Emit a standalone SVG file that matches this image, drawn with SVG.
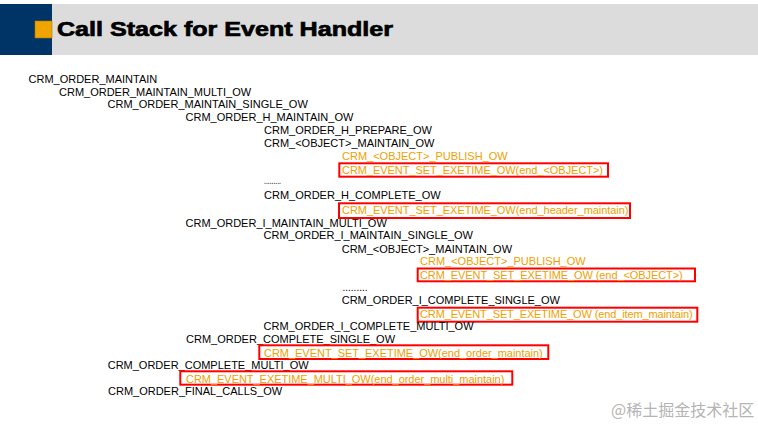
<svg xmlns="http://www.w3.org/2000/svg" width="758" height="424" viewBox="0 0 758 424">
<style>
text{font-family:"Liberation Sans",Arial,sans-serif;font-size:11px;fill:#000}
.o{fill:#F0A000}
.box{fill:none;stroke:#FF0000;stroke-width:2}
.title{font-size:21px;font-weight:bold;stroke:#000;stroke-width:0.7}
.wm{font-family:"Noto Sans CJK SC","Liberation Sans",sans-serif;font-size:16px;fill:#B4B4B4}
</style>
<rect width="758" height="424" fill="#FFFFFF"/>
<g id="header">
<rect x="52" y="4" width="706" height="51" fill="#DCDCDC"/>
<rect x="0" y="4" width="52" height="51" fill="#003366"/>
<rect x="35" y="21" width="17" height="17" fill="#F0A400" stroke="#B07800" stroke-width="0.6"/>
<text class="title" x="57" y="36" textLength="336" lengthAdjust="spacingAndGlyphs">Call Stack for Event Handler</text>
</g>
<g id="connectors"></g>
<g id="n1"><text x="28.5" y="82.5">CRM_ORDER_MAINTAIN</text></g>
<g id="n2"><text x="59" y="95.5">CRM_ORDER_MAINTAIN_MULTI_OW</text></g>
<g id="n3"><text x="107.5" y="108">CRM_ORDER_MAINTAIN_SINGLE_OW</text></g>
<g id="n4"><text x="185.5" y="121">CRM_ORDER_H_MAINTAIN_OW</text></g>
<g id="n5"><text x="264" y="134">CRM_ORDER_H_PREPARE_OW</text></g>
<g id="n6"><text x="264" y="147">CRM_&lt;OBJECT&gt;_MAINTAIN_OW</text></g>
<g id="n7"><text class="o" x="342" y="160">CRM_&lt;OBJECT&gt;_PUBLISH_OW</text></g>
<g id="n8"><rect class="box" x="339.3" y="163.3" width="268.7" height="13.4"/><text class="o" x="342" y="173.5" textLength="261">CRM_EVENT_SET_EXETIME_OW(end_&lt;OBJECT&gt;)</text></g>
<g id="n9"><text x="264" y="183.5" textLength="17" lengthAdjust="spacingAndGlyphs">.........</text></g>
<g id="n10"><text x="264" y="199">CRM_ORDER_H_COMPLETE_OW</text></g>
<g id="n11"><rect class="box" x="339" y="203.3" width="291" height="14.7"/><text class="o" x="342" y="213.5" textLength="286.5">CRM_EVENT_SET_EXETIME_OW(end_header_maintain)</text></g>
<g id="n12"><text x="185.5" y="226.5">CRM_ORDER_I_MAINTAIN_MULTI_OW</text></g>
<g id="n13"><text x="263.5" y="239">CRM_ORDER_I_MAINTAIN_SINGLE_OW</text></g>
<g id="n14"><text x="341.7" y="252.5">CRM_&lt;OBJECT&gt;_MAINTAIN_OW</text></g>
<g id="n15"><text class="o" x="420" y="264.5">CRM_&lt;OBJECT&gt;_PUBLISH_OW</text></g>
<g id="n16"><rect class="box" x="417.7" y="268.5" width="277.3" height="12.8"/><text class="o" x="420" y="278.5" textLength="262.7">CRM_EVENT_SET_EXETIME_OW (end_&lt;OBJECT&gt;)</text></g>
<g id="n17"><text x="342.5" y="290.5" textLength="25" lengthAdjust="spacingAndGlyphs">.........</text></g>
<g id="n18"><text x="341.7" y="304">CRM_ORDER_I_COMPLETE_SINGLE_OW</text></g>
<g id="n19"><rect class="box" x="417.7" y="307.7" width="279.6" height="14"/><text class="o" x="420" y="317.5" textLength="272.7">CRM_EVENT_SET_EXETIME_OW (end_item_maintain)</text></g>
<g id="n20"><text x="263.5" y="330">CRM_ORDER_I_COMPLETE_MULTI_OW</text></g>
<g id="n21"><text x="186" y="342.5">CRM_ORDER_COMPLETE_SINGLE_OW</text></g>
<g id="n22"><rect class="box" x="259.3" y="345.3" width="289" height="13.7"/><text class="o" x="264" y="356.5" textLength="278.7">CRM_EVENT_SET_EXETIME_OW(end_order_maintain)</text></g>
<g id="n23"><text x="107.7" y="368.5">CRM_ORDER_COMPLETE_MULTI_OW</text></g>
<g id="n24"><rect class="box" x="180.3" y="371.3" width="332" height="13.4"/><text class="o" x="186" y="382.5" textLength="318.3">CRM_EVENT_EXETIME_MULTI_OW(end_order_multi_maintain)</text></g>
<g id="n25"><text x="108" y="394.5">CRM_ORDER_FINAL_CALLS_OW</text></g>
<text class="wm" x="611" y="416">@稀土掘金技术社区</text>
</svg>
